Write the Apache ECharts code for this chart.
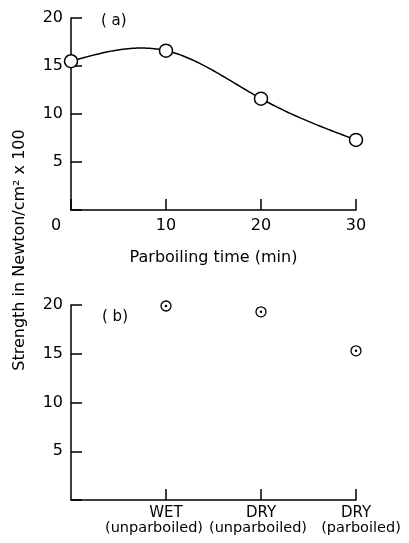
<!DOCTYPE html>
<html><head><meta charset="utf-8">
<script src="https://cdn.jsdelivr.net/npm/echarts@6/dist/echarts.min.js"></script>
<style>html,body{margin:0;padding:0;background:#fff}#c{width:409px;height:543px}</style>
</head><body><div id="c"></div>
<script>
const aTimes = [0, 10, 20, 30];
const aStrength = [15.5, 16.6, 11.6, 7.3];
const bCategories = ['WET\n(unparboiled)', 'DRY\n(unparboiled)', 'DRY\n(parboiled)'];
const bStrength = [19.9, 19.3, 15.3];
const yTicks = [0, 5, 10, 15, 20];
const xTicks = [0, 10, 20, 30];

const FONT = 'DejaVu Sans';
const chart = echarts.init(document.getElementById('c'), null, {renderer: 'canvas'});
const axisLine = {show: true, lineStyle: {color: '#000', width: 1.5}};
const tickStyle = {color: '#000', width: 1.5};

// natural cubic spline through the measured points (drawing only)
function naturalSpline(xs, ys) {
  const n = xs.length, h = [], M = new Array(n).fill(0);
  for (let i = 0; i < n - 1; i++) h.push(xs[i+1] - xs[i]);
  const a = [], b = [], c = [], d = [];
  for (let i = 1; i < n - 1; i++) {
    a.push(h[i-1]); b.push(2 * (h[i-1] + h[i])); c.push(h[i]);
    d.push(6 * ((ys[i+1] - ys[i]) / h[i] - (ys[i] - ys[i-1]) / h[i-1]));
  }
  const m = d.length;
  for (let i = 1; i < m; i++) { const w = a[i] / b[i-1]; b[i] -= w * c[i-1]; d[i] -= w * d[i-1]; }
  const sol = new Array(m);
  for (let i = m - 1; i >= 0; i--) sol[i] = (d[i] - (i < m - 1 ? c[i] * sol[i+1] : 0)) / b[i];
  for (let i = 0; i < m; i++) M[i+1] = sol[i];
  return function (x) {
    let i = 0; while (i < n - 2 && x > xs[i+1]) i++;
    const t1 = xs[i+1] - x, t0 = x - xs[i], hi = h[i];
    return M[i] * t1 * t1 * t1 / (6 * hi) + M[i+1] * t0 * t0 * t0 / (6 * hi)
      + (ys[i] / hi - M[i] * hi / 6) * t1 + (ys[i+1] / hi - M[i+1] * hi / 6) * t0;
  };
}
const spline = naturalSpline(aTimes, aStrength);

const catAxisData = [''].concat(bCategories.map((c, i) => {
  const parts = c.split('\n');
  return '{t|' + parts[0] + '}\n{s' + i + '|' + parts[1] + '}';
}));

const option = {
  backgroundColor: '#fff',
  animation: false,
  title: [
    {text: '( a)', left: 96, top: 9, textStyle: {color: '#000', fontFamily: FONT, fontSize: 15, fontWeight: 'normal'}},
    {text: '( b)', left: 97, top: 305, textStyle: {color: '#000', fontFamily: FONT, fontSize: 15, fontWeight: 'normal'}}
  ],
  grid: [
    {left: 71, top: 18, width: 285, height: 192},
    {left: 71, top: 305, width: 285, height: 195}
  ],
  xAxis: [
    {type: 'value', gridIndex: 0, min: xTicks[0], max: xTicks[xTicks.length-1], interval: 10,
     axisLine: axisLine, splitLine: {show: false},
     axisTick: {show: true, inside: true, length: 11, lineStyle: tickStyle},
     axisLabel: {color: '#000', fontFamily: FONT, fontSize: 16, margin: 8,
       formatter: v => v === 0 ? '{z|0}' : String(v),
       rich: {z: {color: '#000', fontFamily: FONT, fontSize: 16, padding: [0, 30, 0, 0]}}},
     name: 'Parboiling time (min)', nameLocation: 'middle', nameGap: 40,
     nameTextStyle: {color: '#000', fontFamily: FONT, fontSize: 16}},
    {type: 'category', gridIndex: 1, boundaryGap: false, data: catAxisData,
     axisLine: axisLine, splitLine: {show: false},
     axisTick: {show: true, inside: true, length: 11, interval: (i) => i > 0, lineStyle: tickStyle},
     axisLabel: {color: '#000', fontFamily: FONT, fontSize: 14.5, margin: 6, interval: 0,
       rich: {
         t: {color: '#000', fontFamily: FONT, fontSize: 15, lineHeight: 15},
         s0: {color: '#000', fontFamily: FONT, fontSize: 14.5, lineHeight: 15, padding: [0, 24, 0, 0]},
         s1: {color: '#000', fontFamily: FONT, fontSize: 14.5, lineHeight: 15, padding: [0, 6, 0, 0]},
         s2: {color: '#000', fontFamily: FONT, fontSize: 14.5, lineHeight: 15, padding: [0, 0, 0, 10]}
       }}}
  ],
  yAxis: [0, 1].map(g => ({
    type: 'value', gridIndex: g, min: yTicks[0], max: yTicks[yTicks.length-1], interval: 5,
    axisLine: axisLine, splitLine: {show: false},
    axisTick: {show: true, inside: true, length: 11, lineStyle: tickStyle},
    axisLabel: {color: '#000', fontFamily: FONT, fontSize: 16, margin: 8, formatter: v => v === 0 ? '' : String(v)}
  })),
  graphic: [{
    type: 'text', x: 20, y: 250, rotation: Math.PI / 2,
    style: {text: 'Strength in Newton/cm² x 100', fill: '#000', font: '16px "DejaVu Sans"', align: 'center', verticalAlign: 'middle'}
  }],
  series: [
    {type: 'custom', xAxisIndex: 0, yAxisIndex: 0, z: 1,
     data: aTimes.map((t, i) => [t, aStrength[i]]),
     encode: {x: 0, y: 1},
     renderItem: function (params, api) {
       if (params.dataIndex !== 0) return null;
       const x0 = aTimes[0], x1 = aTimes[aTimes.length - 1], pts = [];
       for (let k = 0; k <= 120; k++) {
         const x = x0 + (x1 - x0) * k / 120;
         pts.push(api.coord([x, spline(x)]));
       }
       return {type: 'polyline', shape: {points: pts}, style: {stroke: '#000', lineWidth: 1.5, fill: null}};
     }},
    {type: 'scatter', xAxisIndex: 0, yAxisIndex: 0, z: 3,
     data: aTimes.map((t, i) => [t, aStrength[i]]),
     symbol: 'circle', symbolSize: 13,
     itemStyle: {color: '#fff', borderColor: '#000', borderWidth: 1.5, opacity: 1}},
    {type: 'scatter', xAxisIndex: 1, yAxisIndex: 1,
     data: bStrength.map((v, i) => [i + 1, v]),
     symbol: 'circle', symbolSize: 10,
     itemStyle: {color: '#fff', borderColor: '#000', borderWidth: 1.3, opacity: 1}},
    {type: 'scatter', xAxisIndex: 1, yAxisIndex: 1,
     data: bStrength.map((v, i) => [i + 1, v]),
     symbol: 'circle', symbolSize: 2.5,
     itemStyle: {color: '#000', opacity: 1}}
  ]
};
chart.setOption(option);
</script></body></html>
